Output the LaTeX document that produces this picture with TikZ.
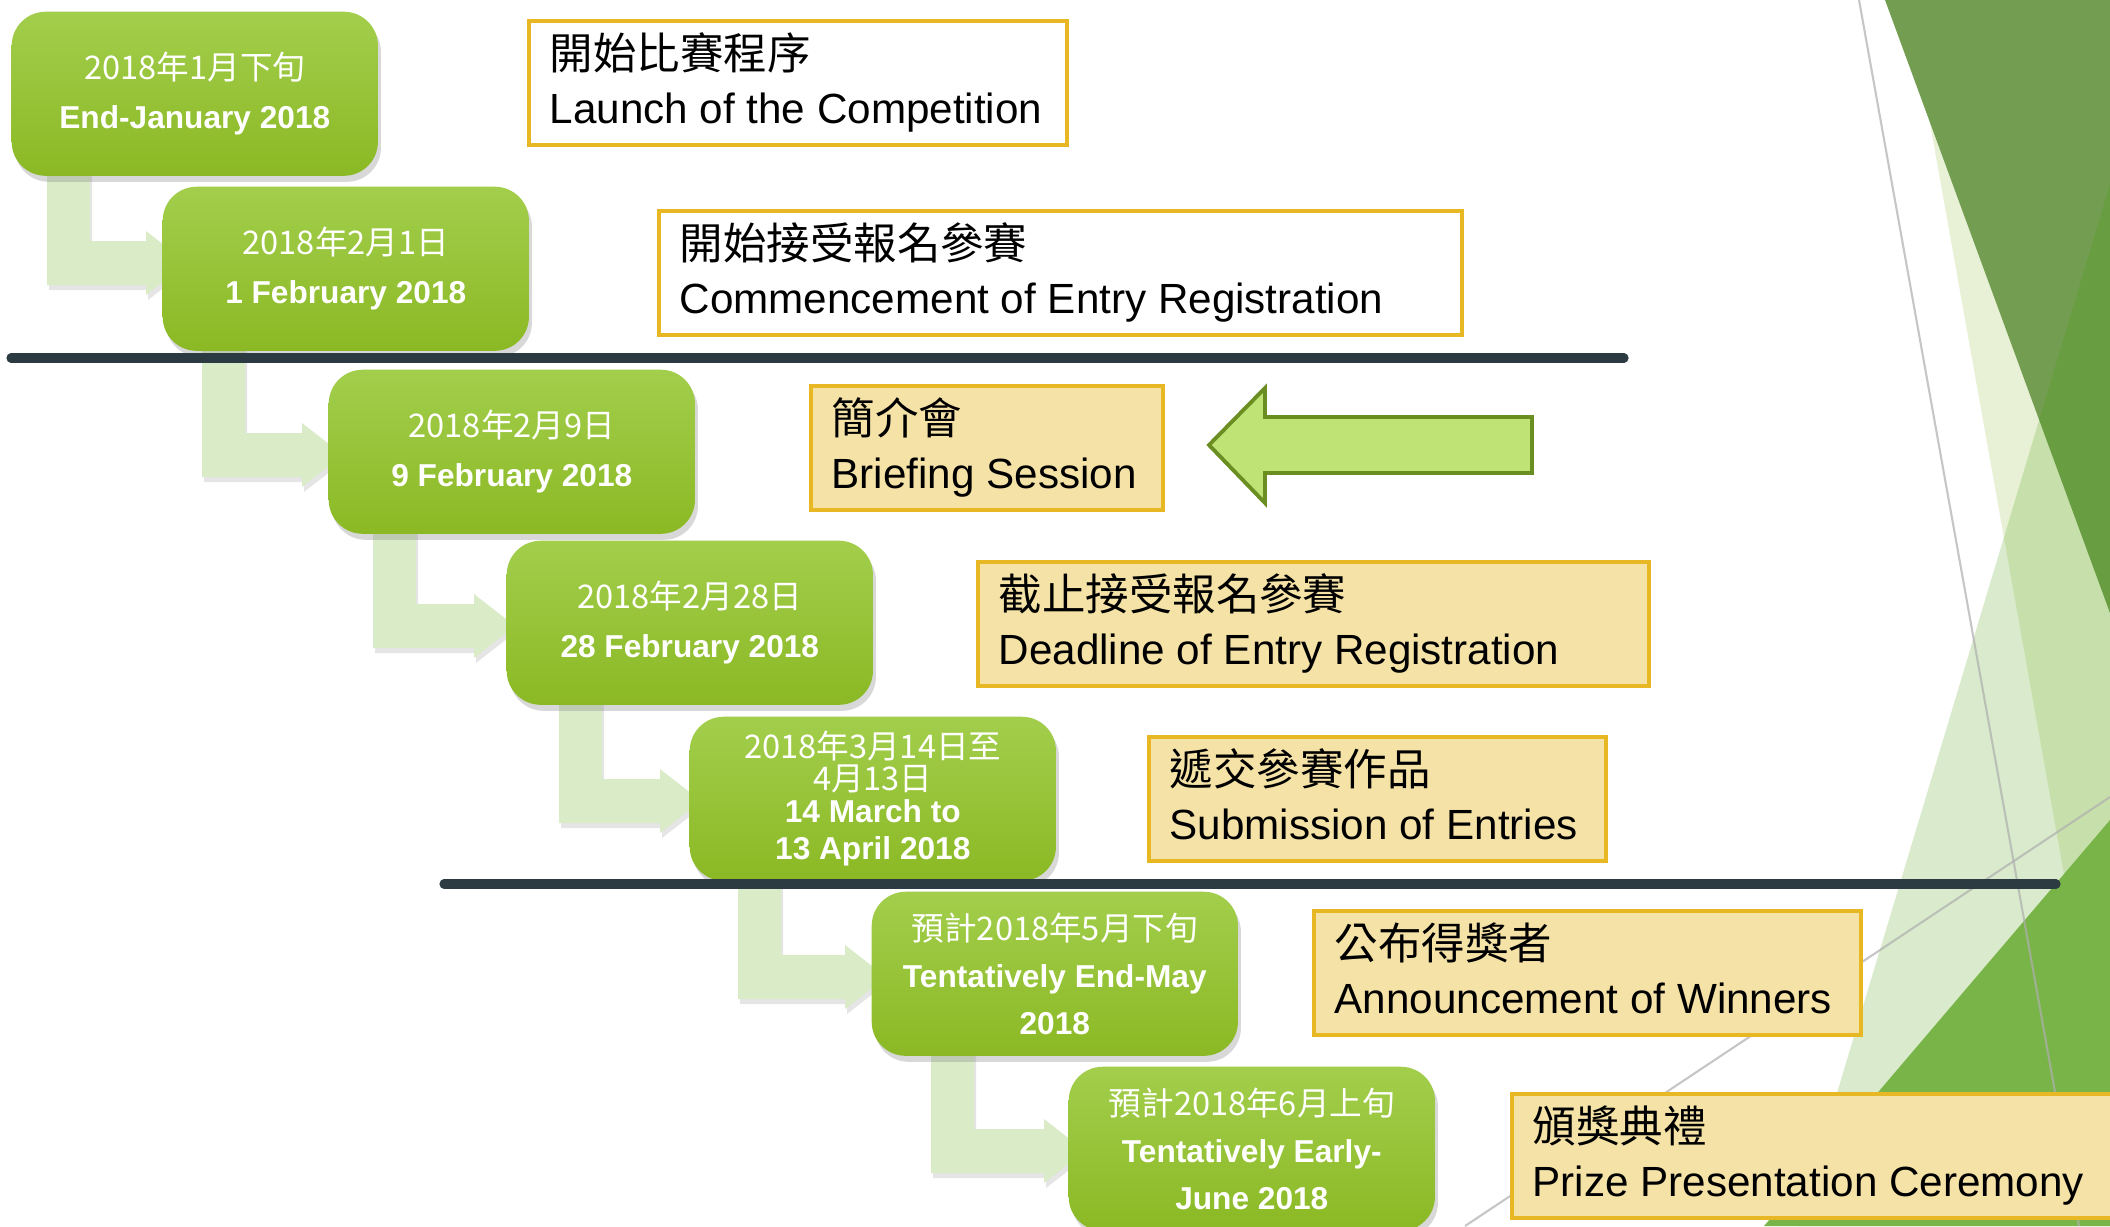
\documentclass[tikz,border=0pt]{standalone}
\usepackage{fontspec}
\setmainfont{Liberation Sans}
\newfontfamily\cjk{Noto Sans CJK TC}[Scale=1.03]
\usetikzlibrary{calc,shadows}
\pgfdeclarelayer{back}
\pgfdeclarelayer{mid}
\pgfsetlayers{back,mid,main}
\definecolor{gtop}{RGB}{162,206,76}
\definecolor{gbot}{RGB}{139,185,36}
\definecolor{bendc}{RGB}{217,235,199}
\definecolor{ybd}{RGB}{232,184,36}
\definecolor{yfill}{RGB}{244,226,166}
\definecolor{rulec}{RGB}{44,58,66}
\definecolor{arrfill}{RGB}{192,227,117}
\definecolor{arrdraw}{RGB}{107,142,35}
\definecolor{tA}{RGB}{115,158,82}
\definecolor{tB}{RGB}{67,155,0}
\definecolor{tC}{RGB}{232,241,214}
\definecolor{tD}{RGB}{121,180,73}
\definecolor{thinc}{RGB}{175,175,175}
\begin{document}
\begin{tikzpicture}[x=0.01cm,y=-0.01cm,
  gbox/.style={rounded corners=3.4mm, top color=gtop, bottom color=gbot, draw=none,
    minimum width=3.66cm, minimum height=1.64cm, anchor=north west, align=center,
    text=white, inner sep=0pt, font=\fontsize{9}{13.9}\selectfont,
    drop shadow={shadow xshift=0.3mm, shadow yshift=-0.6mm, opacity=0.3}},
  ybox/.style={draw=ybd, line width=1pt, anchor=north west, inner sep=0pt,
    minimum height=1.24cm},
  ytext/.style={anchor=west, align=left, inner sep=0pt, text=black,
    font=\fontsize{12}{15.4}\selectfont},
  bendarrow/.style={fill=bendc, draw=none,
    drop shadow={shadow xshift=0.2mm, shadow yshift=-0.5mm, opacity=0.2}},
  ruleline/.style={draw=rulec, line width=2.6pt, line cap=round},
  thinline/.style={draw=thinc, line width=0.6pt, opacity=0.7},
  bigarrow/.style={fill=arrfill, draw=arrdraw, line width=1.1pt, line join=miter}
]
\useasboundingbox (0,0) rectangle (2110,1226);
\begin{pgfonlayer}{back}
\fill[white] (0,0) rectangle (2110,1226);
\clip (0,0) rectangle (2110,1226);
% background facets
\fill[tC] (1908,0) -- (2110,0) -- (2110,1132) -- cycle;
\fill[tA] (1885,0) -- (2110,0) -- (2110,613) -- cycle;
\fill[tB, opacity=0.2] (2110,184) -- (1797,1226) -- (2110,1226) -- cycle;
\fill[tD] (2110,820) -- (1764,1226) -- (2110,1226) -- cycle;
\draw[thinline] (1859,0) -- (2079,1226);
\draw[thinline] (1465,1226) -- (2110,797);
\end{pgfonlayer}

% green timeline boxes
\path
  (11,11)    node[gbox] (g1) {{\cjk 2018年1月下旬}\\\textbf{End-January 2018}}
  (162,186)  node[gbox] (g2) {{\cjk 2018年2月1日}\\\textbf{1 February 2018}}
  (328,369)  node[gbox] (g3) {{\cjk 2018年2月9日}\\\textbf{9 February 2018}}
  (506,540)  node[gbox] (g4) {{\cjk 2018年2月28日}\\\textbf{28 February 2018}}
  (689,716)  node[gbox, font=\fontsize{9}{9.0}\selectfont] (g5) {{\cjk 2018年3月14日至}\\{\cjk 4月13日}\\\textbf{14 March to}\\[1.6pt]\textbf{13 April 2018}}
  (871,891)  node[gbox, font=\fontsize{9}{13.4}\selectfont] (g6) {{\cjk 預計2018年5月下旬}\\\textbf{Tentatively End-May}\\\textbf{2018}}
  (1068,1066) node[gbox, font=\fontsize{9}{13.4}\selectfont] (g7) {{\cjk 預計2018年6月上旬}\\\textbf{Tentatively Early-}\\\textbf{June 2018}};

% bent connector arrows, under the boxes
\begin{pgfonlayer}{mid}
\foreach \a/\b/\off/\hb/\rel in {1/2/36/16/55, 2/3/40/26/64, 3/4/45/32/64, 4/5/53/29/63, 5/6/49/26/64, 6/7/60/24/63}{
  \coordinate (sA\a) at ($(g\a.south west)+(\off,-20)$);
  \coordinate (sB\a) at ($(sA\a)+(43,0)$);
  \coordinate (hT\a) at ($(g\b.north west)+(-\hb,\rel)$);
  \coordinate (hB\a) at ($(hT\a)+(0,44)$);
  \coordinate (tip\a) at ($(hT\a)!0.5!(hB\a)+(41,0)$);
  \fill[bendarrow] (sA\a) -- (sA\a |- hB\a) -- (hB\a) -- ($(hB\a)+(0,10)$) -- (tip\a)
    -- ($(hT\a)+(0,-10)$) -- (hT\a) -- (sB\a |- hT\a) -- (sB\a) -- cycle;
}
\end{pgfonlayer}

% separators
\draw[ruleline] (11,358) -- (1624,358);
\draw[ruleline] (444,884) -- (2056,884);

% description boxes
\node[ybox, fill=white, minimum width=5.38cm] (y1) at (527,19) {};
\node[ytext] (y1t) at ($(y1.west)+(22,3)$) {{\cjk 開始比賽程序}\strut\\Launch of the Competition\strut};
\node[ybox, fill=white, minimum width=8.03cm] (y2) at (657,209) {};
\node[ytext] (y2t) at ($(y2.west)+(22,3)$) {{\cjk 開始接受報名參賽}\strut\\Commencement of Entry Registration\strut};
\node[ybox, fill=yfill, minimum width=3.52cm] (y3) at (809,384) {};
\node[ytext] (y3t) at ($(y3.west)+(22,3)$) {{\cjk 簡介會}\strut\\Briefing Session\strut};
\node[ybox, fill=yfill, minimum width=6.71cm] (y4) at (976,560) {};
\node[ytext] (y4t) at ($(y4.west)+(22,3)$) {{\cjk 截止接受報名參賽}\strut\\Deadline of Entry Registration\strut};
\node[ybox, fill=yfill, minimum width=4.57cm] (y5) at (1147,735) {};
\node[ytext] (y5t) at ($(y5.west)+(22,3)$) {{\cjk 遞交參賽作品}\strut\\Submission of Entries\strut};
\node[ybox, fill=yfill, minimum width=5.47cm] (y6) at (1312,909) {};
\node[ytext] (y6t) at ($(y6.west)+(22,3)$) {{\cjk 公布得獎者}\strut\\Announcement of Winners\strut};
\node[ybox, fill=yfill, minimum width=6.2cm] (y7) at (1510,1092) {};
\node[ytext] (y7t) at ($(y7.west)+(22,3)$) {{\cjk 頒獎典禮}\strut\\Prize Presentation Ceremony\strut};

% highlight arrow pointing to the briefing session
\coordinate (ptip) at (1209,445);
\draw[bigarrow] (ptip) -- (1265,388) -- (1265,417) -- (1532,417) -- (1532,473)
  -- (1265,473) -- (1265,503) -- cycle;
\end{tikzpicture}
\end{document}
